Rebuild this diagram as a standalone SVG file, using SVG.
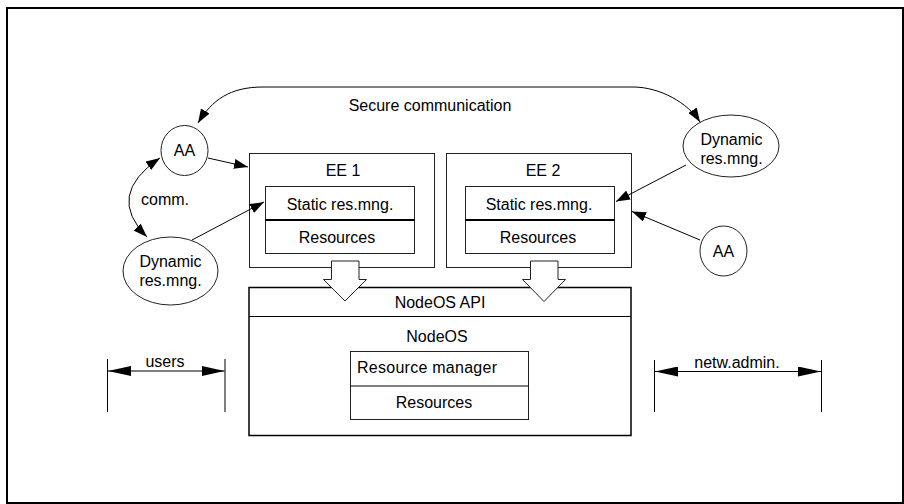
<svg xmlns="http://www.w3.org/2000/svg" width="904" height="504" viewBox="0 0 904 504">
<defs>
<marker id="ah" viewBox="0 0 14 10" refX="14" refY="5" markerWidth="14" markerHeight="10" markerUnits="userSpaceOnUse" orient="auto-start-reverse">
<path d="M0,0 L14,5 L0,10 Z" fill="#000"/>
</marker>
<marker id="dim" viewBox="0 0 23 10" refX="23" refY="5" markerWidth="23" markerHeight="10" markerUnits="userSpaceOnUse" orient="auto-start-reverse">
<path d="M0,0 L23,5 L0,10 Z" fill="#000"/>
</marker>
<style>
text{font-family:"Liberation Sans",Arial,sans-serif;font-size:16px;fill:#000}
.c{text-anchor:middle}
.box{fill:#fff;stroke:#222;stroke-width:1}
.ln{fill:none;stroke:#000;stroke-width:1}
.div{stroke:#000;stroke-width:2}
.blk{fill:#fff;stroke:#222;stroke-width:1}
</style>
</defs>
<rect x="7" y="8" width="896" height="495" fill="#fff" stroke="#000" stroke-width="2"/>

<g id="ee1">
<rect class="box" x="249.5" y="153.5" width="185" height="114"/>
<text class="c" x="343" y="176">EE 1</text>
<rect class="box" x="265.5" y="186.5" width="149" height="67"/>
<line class="div" x1="265.5" y1="220" x2="414.5" y2="220"/>
<text class="c" x="340" y="210">Static res.mng.</text>
<text class="c" x="337" y="243">Resources</text>
</g>

<g id="ee2">
<rect class="box" x="446.5" y="153.5" width="185" height="114"/>
<text class="c" x="543" y="176">EE 2</text>
<rect class="box" x="465.5" y="186.5" width="149" height="67"/>
<line class="div" x1="465.5" y1="220" x2="614.5" y2="220"/>
<text class="c" x="539" y="210">Static res.mng.</text>
<text class="c" x="538" y="243">Resources</text>
</g>

<g id="nodeos">
<rect x="249" y="287.5" width="382" height="148" fill="#fff" stroke="#000" stroke-width="1.5"/>
<line class="ln" x1="249" y1="316.5" x2="631" y2="316.5"/>
<text class="c" x="440" y="308">NodeOS API</text>
<text class="c" x="437" y="342">NodeOS</text>
<rect class="box" x="350.5" y="351.5" width="178" height="68"/>
<line class="ln" x1="350.5" y1="386" x2="528.5" y2="386"/>
<text x="357" y="373" textLength="140">Resource manager</text>
<text class="c" x="434" y="408">Resources</text>
</g>

<g id="aa-left">
<ellipse class="box" cx="184.5" cy="150.5" rx="23.5" ry="25"/>
<text class="c" x="184.5" y="156">AA</text>
</g>

<g id="dyn-left">
<ellipse class="box" cx="170.5" cy="271" rx="47.5" ry="34"/>
<text class="c" x="170.5" y="267">Dynamic</text>
<text class="c" x="170.5" y="286">res.mng.</text>
</g>

<g id="dyn-right">
<ellipse class="box" cx="731" cy="146" rx="48" ry="31"/>
<text class="c" x="731.5" y="145">Dynamic</text>
<text class="c" x="731.5" y="164">res.mng.</text>
</g>

<g id="aa-right">
<ellipse class="box" cx="723.5" cy="251" rx="23.5" ry="25"/>
<text class="c" x="723.5" y="257">AA</text>
</g>

<g id="connectors">
<path class="ln" d="M198,123 C212,100 230,87 263,87 L633,87 C660,87 688,103 700,122" marker-start="url(#ah)" marker-end="url(#ah)"/>
<text class="c" x="430" y="111">Secure communication</text>
<path class="ln" d="M160,158 Q105,195 147,237" marker-start="url(#ah)" marker-end="url(#ah)"/>
<text x="141" y="205">comm.</text>
<line class="ln" x1="208" y1="158" x2="248" y2="167" marker-end="url(#ah)"/>
<line class="ln" x1="192" y1="240" x2="264" y2="202" marker-end="url(#ah)"/>
<line class="ln" x1="686" y1="165" x2="616" y2="201.5" marker-end="url(#ah)"/>
<line class="ln" x1="700" y1="240" x2="632" y2="211.5" marker-end="url(#ah)"/>
<path class="blk" d="M331.5,261 H359 V279.5 H366.5 L345,301 L323.5,279.5 H331.5 Z"/>
<path class="blk" d="M530.5,261 H558 V279.5 H565.5 L544,301.5 L522.5,279.5 H530.5 Z"/>
<line class="ln" x1="107.5" y1="359" x2="107.5" y2="412" stroke="#444"/>
<line class="ln" x1="225" y1="359" x2="225" y2="412" stroke="#444"/>
<line class="ln" x1="108" y1="371" x2="224.5" y2="371" marker-start="url(#dim)" marker-end="url(#dim)"/>
<text class="c" x="165" y="367">users</text>
<line class="ln" x1="654.5" y1="360" x2="654.5" y2="412" stroke="#444"/>
<line class="ln" x1="821.5" y1="360" x2="821.5" y2="412" stroke="#444"/>
<line class="ln" x1="655" y1="371.5" x2="821" y2="371.5" marker-start="url(#dim)" marker-end="url(#dim)"/>
<text class="c" x="737" y="368">netw.admin.</text>
</g>
</svg>
